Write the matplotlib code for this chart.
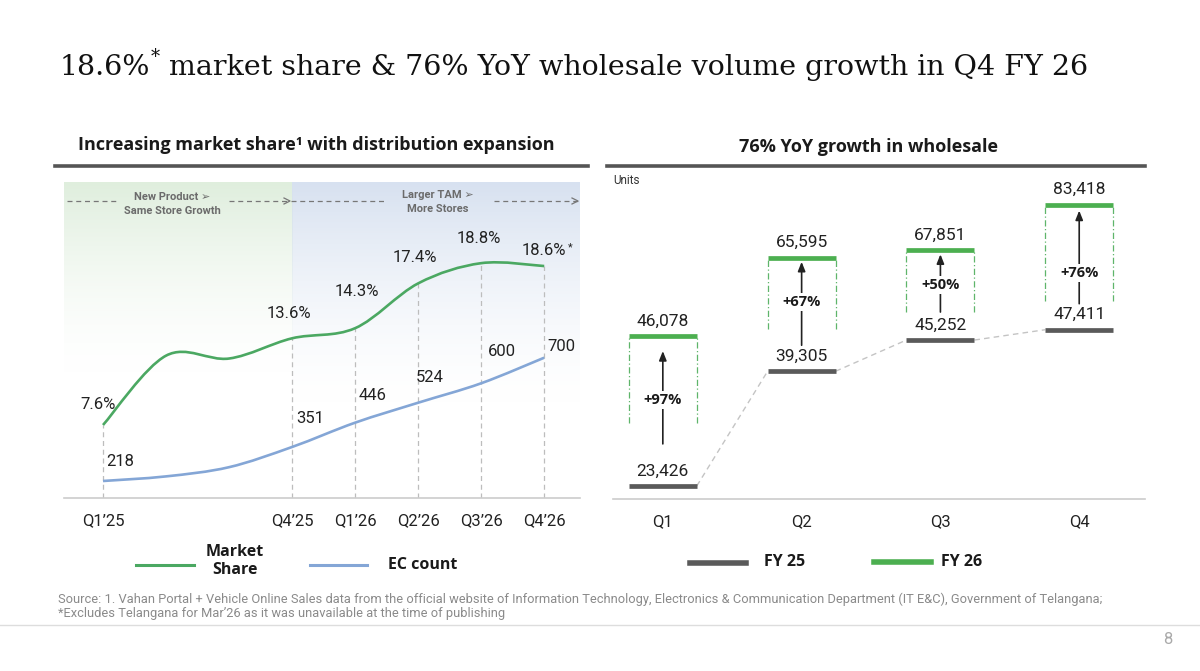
import matplotlib
matplotlib.use("Agg")
import matplotlib.pyplot as plt
import numpy as np
from matplotlib.path import Path
from matplotlib.patches import PathPatch
from matplotlib.lines import Line2D

W, H = 1200, 671

# left panel: market share and EC count per quarter
quarters = ["Q1\u201925", "Q2\u201925", "Q3\u201925", "Q4\u201925",
            "Q1\u201926", "Q2\u201926", "Q3\u201926", "Q4\u201926"]
market_share = [7.6, 12.4, 12.2, 13.6, 14.3, 17.4, 18.8, 18.6]
ec_count = [218, 236, 272, 351, 446, 524, 600, 700]
shown = [0, 3, 4, 5, 6, 7]   # quarters that carry a tick and value labels

# right panel: wholesale units
wq = ["Q1", "Q2", "Q3", "Q4"]
fy25 = [23426, 39305, 45252, 47411]
fy26 = [46078, 65595, 67851, 83418]
yoy = ["+97%", "+67%", "+50%", "+76%"]

GREEN_LINE = "#4BA862"
BLUE_LINE = "#84A6D6"
GREEN_BAR = "#4CAF50"
GREY_BAR = "#5A5A5A"
SANS = ["Roboto", "DejaVu Sans"]
HEAD = ["Open Sans", "DejaVu Sans"]

plt.rcParams["font.family"] = SANS

fig = plt.figure(figsize=(W / 100, H / 100), dpi=100)
renderer = fig.canvas.get_renderer()


def fx(x):
    return x / W


def fy(y):
    return 1 - y / H


def rect(x0, y0, x1, y1):
    return [fx(x0), fy(y1), (x1 - x0) / W, (y1 - y0) / H]


def smooth_path(xs, ys):
    pts = np.column_stack([xs, ys]).astype(float)
    ext = np.vstack([pts[0], pts, pts[-1]])
    verts, codes = [pts[0]], [Path.MOVETO]
    for i in range(len(pts) - 1):
        p0, p1, p2, p3 = ext[i], ext[i + 1], ext[i + 2], ext[i + 3]
        verts += [p1 + (p2 - p0) / 6, p2 - (p3 - p1) / 6, p2]
        codes += [Path.CURVE4] * 3
    return Path(verts, codes)


def run_text(x_px, y_px, parts):
    x = x_px
    for s, kw, dy in parts:
        t = fig.text(fx(x), fy(y_px - dy), s, ha="left", va="baseline", **kw)
        x += t.get_window_extent(renderer).width
    return x


# ---- headline ----
serif = dict(family="DejaVu Serif", fontsize=20.5, color="#111111")
run_text(60, 75, [("18.6%", serif, 0),
                  ("*", dict(serif, fontsize=13), 13),
                  (" market share & 76% YoY wholesale volume growth in Q4 FY 26", serif, 0)])

# panel titles and underlines
ptitle = dict(ha="center", va="baseline", fontsize=13, fontweight="bold",
              color="#1a1a1a", family=HEAD)
fig.text(fx(316), fy(150), "Increasing market share\u00b9 with distribution expansion", **ptitle)
fig.text(fx(868), fy(152), "76% YoY growth in wholesale", **ptitle)
fig.add_artist(Line2D([fx(55), fx(588)], [fy(166)] * 2, color="#555555", lw=2.6))
fig.add_artist(Line2D([fx(607), fx(1145)], [fy(166)] * 2, color="#555555", lw=2.6))

# ---- left panel ----
x = np.arange(len(quarters))
xlim = (-0.619, 7.568)
ylim_ms = (2.548, 24.417)
ax_ms = fig.add_axes(rect(64, 182, 580, 498))
ax_ec = fig.add_axes(rect(64, 182, 580, 498))
ax_ec.set_facecolor("none")
ax_ms.set_xlim(*xlim)
ax_ec.set_xlim(*xlim)
ax_ms.set_ylim(*ylim_ms)
ax_ec.set_ylim(151.5, 1386.9)

# background gradients
grad = np.linspace(0, 1, 256)[:, None]
g_img = np.zeros((256, 1, 4))
g_img[..., :3] = np.array([0.875, 0.937, 0.867])
g_img[..., 3] = np.clip(1 - grad / 0.62, 0, 1) ** 1.6
b_img = np.zeros((256, 1, 4))
b_img[..., :3] = np.array([0.845, 0.886, 0.945])
b_img[..., 3] = np.clip(1 - grad / 0.72, 0, 1) ** 1.6
ax_ms.imshow(g_img, extent=[xlim[0], 3, *ylim_ms], aspect="auto", zorder=0)
ax_ms.imshow(b_img, extent=[3, xlim[1], *ylim_ms], aspect="auto", zorder=0)

ax_ms.add_patch(PathPatch(smooth_path(x, market_share), fill=False,
                          edgecolor=GREEN_LINE, lw=1.9, zorder=3))
ax_ec.add_patch(PathPatch(smooth_path(x, ec_count), fill=False,
                          edgecolor=BLUE_LINE, lw=1.9, zorder=3))

for i in shown:
    ax_ms.vlines(x[i], ylim_ms[0], market_share[i], colors="#bdbdbd", lw=0.9,
                 linestyles=(0, (4, 3)), zorder=2)

ms_off = {0: (-5, 21), 3: (-3, 25), 4: (2, 37), 5: (-3, 26), 6: (-2, 25), 7: (0, 16)}
ec_off = {0: (17, 19), 3: (18, 28), 4: (17, 27), 5: (12, 25), 6: (21, 32), 7: (17, 11)}
lbl = dict(ha="center", va="center", fontsize=12, color="#222222",
           textcoords="offset pixels")
for i in shown:
    t = ax_ms.annotate(f"{market_share[i]}%", (x[i], market_share[i]),
                       xytext=ms_off[i], **lbl)
    if i == 7:
        bb = t.get_window_extent(renderer)
        fig.text(bb.x1 / W + 0.001, bb.y1 / H - 0.014, "*", fontsize=8,
                 ha="left", va="bottom", color="#222222")
    ax_ec.annotate(f"{ec_count[i]}", (x[i], ec_count[i]), xytext=ec_off[i], **lbl)

ax_ms.set_xticks(x[shown], [quarters[i] for i in shown])
ax_ms.tick_params(axis="x", length=0, pad=11, labelsize=12, labelcolor="#222222")
ax_ms.set_yticks([])
ax_ec.set_xticks([])
ax_ec.set_yticks([])
for a in (ax_ms, ax_ec):
    for s in a.spines.values():
        s.set_visible(False)
ax_ms.spines["bottom"].set_visible(True)
ax_ms.spines["bottom"].set_color("#cccccc")
ax_ms.spines["bottom"].set_linewidth(1.2)

# phase arrows along the top
dash = dict(color="#777777", lw=0.9, ls=(0, (4, 3)))
fig.add_artist(Line2D([fx(67), fx(116)], [fy(201)] * 2, **dash))
fig.add_artist(Line2D([fx(291), fx(386)], [fy(201)] * 2, **dash))
for x0, x1 in [(229, 290), (494, 578)]:
    fig.add_artist(Line2D([fx(x0), fx(x1)], [fy(201)] * 2, **dash))
    fig.add_artist(Line2D([fx(x1 - 6), fx(x1), fx(x1 - 6)],
                          [fy(198), fy(201), fy(204)], color="#777777", lw=0.9))
phase = dict(ha="center", va="center", fontsize=8, fontweight="bold", color="#6b6b6b")
fig.text(fx(172), fy(197.5), "New Product \u27a2", **phase)
fig.text(fx(172), fy(211), "Same Store Growth", **phase)
fig.text(fx(438), fy(195.5), "Larger TAM \u27a2", **phase)
fig.text(fx(438), fy(208.5), "More Stores", **phase)

# left legend
fig.add_artist(Line2D([fx(136), fx(194)], [fy(565)] * 2, color=GREEN_LINE, lw=2.2))
fig.text(fx(235), fy(561), "Market\nShare", ha="center", va="center", fontsize=11.5,
         fontweight="bold", color="#1a1a1a", linespacing=1.1, family=HEAD)
fig.add_artist(Line2D([fx(310), fx(367)], [fy(565)] * 2, color=BLUE_LINE, lw=2.2))
fig.text(fx(388), fy(565), "EC count", ha="left", va="center", fontsize=11.5,
         fontweight="bold", color="#1a1a1a", family=HEAD)

# ---- right panel ----
ax_r = fig.add_axes(rect(613, 170, 1145, 499))
ax_r.set_yscale("log")
ax_r.set_xlim(-0.359, 3.474)
ax_r.set_ylim(10 ** 4.344, 10 ** 4.989)
xr = np.arange(len(wq))
hw = 0.245
ax_r.hlines(fy25, xr - hw, xr + hw, colors=GREY_BAR, lw=3.4, zorder=3)
ax_r.hlines(fy26, xr - hw, xr + hw, colors=GREEN_BAR, lw=3.4, zorder=3)
for i in range(len(wq) - 1):
    ax_r.plot([xr[i] + hw, xr[i + 1] - hw], [fy25[i], fy25[i + 1]],
              color="#c4c4c4", lw=1, ls=(0, (4, 3)), zorder=1)

box_gap = [63, 42, 28, 29]     # px above FY25 bar where dotted box stops
arrow_low = [42, 26, 28, 26]   # px above FY25 bar where arrow starts
arrow_high = [15, 4, 4, 6]     # px below FY26 bar where arrow tip sits
pct_gap = [86, 69, 55, 57]     # px above FY25 bar for growth label


def px_above(ax, xv, yv, dpx):
    dx, dy = ax.transData.transform((xv, yv))
    return ax.transData.inverted().transform((dx, dy + dpx))[1]


for i in range(len(wq)):
    bottom = px_above(ax_r, xr[i], fy25[i], box_gap[i])
    ax_r.vlines([xr[i] - hw, xr[i] + hw], bottom, fy26[i], colors="#5fb56a", lw=0.9,
                linestyles=(0, (5, 2, 1, 2)), zorder=2)
    ax_r.annotate("", xy=(xr[i], fy26[i]), xytext=(xr[i], fy25[i]),
                  arrowprops=dict(arrowstyle="-|>,head_length=0.55,head_width=0.22",
                                  color="#222222", lw=1.2,
                                  shrinkA=arrow_low[i] * 0.72, shrinkB=arrow_high[i] * 0.72))
    ax_r.annotate(yoy[i], (xr[i], fy25[i]), xytext=(0, pct_gap[i]),
                  textcoords="offset pixels", ha="center", va="center", fontsize=10.5,
                  fontweight="bold", color="#1a1a1a", family=HEAD,
                  bbox=dict(fc="white", ec="none", pad=1.5))
    for v in (fy25[i], fy26[i]):
        ax_r.annotate(f"{v:,}", (xr[i], v), xytext=(0, 15), textcoords="offset pixels",
                      ha="center", va="center", fontsize=12.5, color="#222222")

ax_r.set_xticks(xr, wq)
ax_r.yaxis.set_major_locator(matplotlib.ticker.NullLocator())
ax_r.yaxis.set_minor_locator(matplotlib.ticker.NullLocator())
ax_r.tick_params(axis="x", length=0, pad=11, labelsize=12, labelcolor="#222222")
for s in ax_r.spines.values():
    s.set_visible(False)
ax_r.spines["bottom"].set_visible(True)
ax_r.spines["bottom"].set_color("#cccccc")
ax_r.spines["bottom"].set_linewidth(1.2)
fig.text(fx(613), fy(181), "Units", ha="left", va="center", fontsize=8.5, color="#333333")

# right legend
fig.add_artist(Line2D([fx(690), fx(746)], [fy(563)] * 2, color=GREY_BAR, lw=4))
fig.text(fx(764), fy(562), "FY 25", ha="left", va="center", fontsize=11.5,
         fontweight="bold", color="#1a1a1a", family=HEAD)
fig.add_artist(Line2D([fx(874), fx(931)], [fy(562)] * 2, color=GREEN_BAR, lw=4))
fig.text(fx(941), fy(562), "FY 26", ha="left", va="center", fontsize=11.5,
         fontweight="bold", color="#1a1a1a", family=HEAD)

# footer
foot = dict(ha="left", va="center", fontsize=9.25, color="#8a8a8a")
fig.text(fx(58), fy(599), "Source: 1. Vahan Portal + Vehicle Online Sales data from the official "
         "website of Information Technology, Electronics & Communication Department (IT E&C), "
         "Government of Telangana;", **foot)
fig.text(fx(58), fy(614), "*Excludes Telangana for Mar\u201926 as it was unavailable at the "
         "time of publishing", **foot)
fig.add_artist(Line2D([0, 1], [fy(625)] * 2, color="#dddddd", lw=1))
fig.text(fx(1168), fy(640), "8", ha="center", va="center", fontsize=12, color="#aaaaaa")

fig.savefig("out.png", dpi=100)
